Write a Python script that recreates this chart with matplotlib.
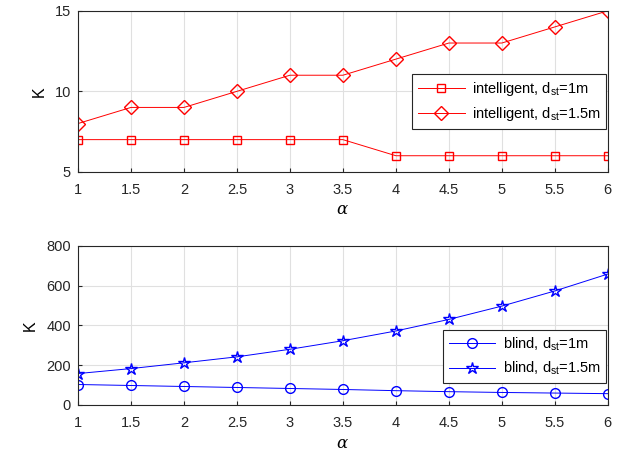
import numpy as np
import matplotlib.pyplot as plt

plt.rcParams['font.family'] = ['Liberation Sans', 'DejaVu Sans']
plt.rcParams['font.size'] = 10.5
plt.rcParams['mathtext.fontset'] = 'dejavuserif'

# data
alpha = [1, 1.5, 2, 2.5, 3, 3.5, 4, 4.5, 5, 5.5, 6]
intel_1m = [7, 7, 7, 7, 7, 7, 6, 6, 6, 6, 6]
intel_15m = [8, 9, 9, 10, 11, 11, 12, 13, 13, 14, 15]
blind_1m = [103, 98, 93, 88, 83, 78, 72, 67, 63, 60, 57]
blind_15m = [158, 183, 212, 242, 280, 323, 372, 430, 497, 573, 658]

fig = plt.figure(figsize=(6.24, 4.51), dpi=100)
ax1 = fig.add_axes([0.125, 0.619, 0.849, 0.357])
ax2 = fig.add_axes([0.125, 0.102, 0.849, 0.353])

ax1.plot(alpha, intel_1m, '-s', color='red', mfc='none', ms=5.5, lw=0.7,
         label=r'intelligent, d$_{\mathregular{st}}$=1m')
ax1.plot(alpha, intel_15m, '-D', color='red', mfc='none', ms=7, lw=0.7,
         label=r'intelligent, d$_{\mathregular{st}}$=1.5m')
ax2.plot(alpha, blind_1m, '-o', color='blue', mfc='none', ms=7, lw=0.7,
         label=r'blind, d$_{\mathregular{st}}$=1m')
ax2.plot(alpha, blind_15m, '-*', color='blue', mfc='none', ms=9, lw=0.7,
         label=r'blind, d$_{\mathregular{st}}$=1.5m')

ax1.set_ylim(5, 15)
ax1.set_yticks([5, 10, 15])
ax2.set_ylim(0, 800)
ax2.set_yticks([0, 200, 400, 600, 800])

for ax, ly in [(ax1, 0.438), (ax2, 0.305)]:
    ax.set_xlim(1, 6)
    ax.set_xticks(alpha)
    ax.set_xticklabels(['1', '1.5', '2', '2.5', '3', '3.5', '4', '4.5', '5', '5.5', '6'])
    ax.grid(True, color='#e0e0e0', lw=0.8)
    ax.set_axisbelow(True)
    ax.tick_params(direction='in', length=3, colors='#262626')
    ax.tick_params(axis='x', pad=8)
    ax.tick_params(axis='y', pad=5)
    for s in ax.spines.values():
        s.set_color('#262626')
        s.set_linewidth(0.8)
    ax.set_xlabel(r'$\alpha$', fontsize=12, labelpad=4)
    ax.set_ylabel('K', fontsize=11.5, labelpad=6)
    leg = ax.legend(loc='center right', bbox_to_anchor=(1.0, ly), fancybox=False,
                    framealpha=1, edgecolor='#262626', fontsize=10.5,
                    handlelength=3.2, borderpad=0.4, labelspacing=0.5,
                    borderaxespad=0.1, handletextpad=0.5)
    leg.get_frame().set_linewidth(0.8)

fig.savefig('out.png', dpi=100)
